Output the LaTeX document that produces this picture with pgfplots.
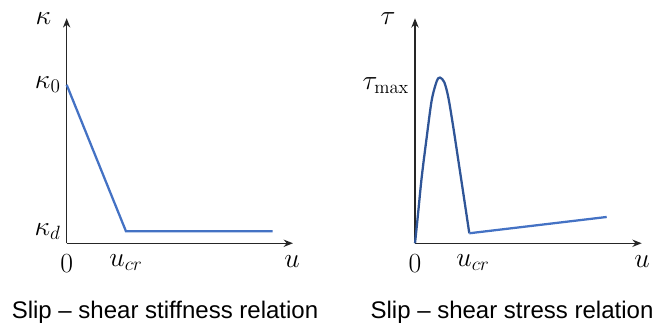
\documentclass[border=0pt]{standalone}
\usepackage{pgfplots}
\pgfplotsset{compat=1.18}
\usetikzlibrary{arrows.meta}
\usepackage{fontspec}
\setmainfont{Liberation Sans}
\setmathrm{Latin Modern Roman}
\definecolor{lblue}{HTML}{4472C4}
\definecolor{dblue}{HTML}{2F5597}
\definecolor{axgray}{HTML}{262626}
\begin{document}
\begin{tikzpicture}
\useasboundingbox (0,0) rectangle (491.25pt,246.75pt);
\pgfplotsset{
  myaxis/.style={
    x=0.75pt, y=0.75pt,
    xmin=0, ymin=0,
    enlargelimits=false,
    axis lines=left,
    axis line style={axgray, line width=1.1pt, -{Stealth[length=7pt,width=5.5pt]}},
    major tick length=0pt,
    tick style={draw=none},
    ticklabel style={font=\fontsize{20}{23}\selectfont},
    clip=false,
    xticklabel style={anchor=north, yshift=-5pt},
    yticklabel style={anchor=east, xshift=-1pt},
  }
}
% left panel
\begin{axis}[myaxis, at={(50pt,64.3pt)}, anchor=south west,
  xmax=226.3, ymax=225,
  xtick={0,59.3}, xticklabels={$0$,$u_{cr}$},
  ytick={158.5,12}, yticklabels={$\kappa_0$,$\kappa_d$}]
\addplot[lblue, line width=1.7pt] coordinates {(0,158.5) (59.3,12) (206,12)};
\end{axis}
% right panel
\begin{axis}[myaxis, at={(311.25pt,64.3pt)}, anchor=south west,
  xmax=226.7, ymax=225,
  xtick={0,58}, xticklabels={$0$,$u_{cr}$},
  ytick={158}, yticklabels={$\tau_{\max}$}]
\addplot[dblue, line width=1.7pt, smooth, tension=0.5] coordinates {
  (0,0) (2.7,26) (6.7,66) (11.7,106) (16.7,143) (21.7,162) (25,165.7)
  (29.3,161) (33.3,146) (38.3,116) (43.3,83) (48.3,50) (54.3,10)};
\addplot[lblue, line width=1.7pt] coordinates {(54.3,10) (191.7,26.3)};
\end{axis}
% axis names
\node[font=\fontsize{20}{23}\selectfont, inner sep=0pt] at (32.5pt,233pt) {$\kappa$};
\node[font=\fontsize{20}{23}\selectfont, inner sep=0pt] at (291pt,233pt) {$\tau$};
\node[font=\fontsize{20}{23}\selectfont] at (219pt,50.5pt) {$u$};
\node[font=\fontsize{20}{23}\selectfont] at (481.5pt,50.5pt) {$u$};
% captions
\node[font=\fontsize{18}{21}\selectfont] at (123.75pt,12.75pt) {Slip -- shear stiffness relation};
\node[font=\fontsize{18}{21}\selectfont] at (384pt,12.75pt) {Slip -- shear stress relation};
\end{tikzpicture}
\end{document}
